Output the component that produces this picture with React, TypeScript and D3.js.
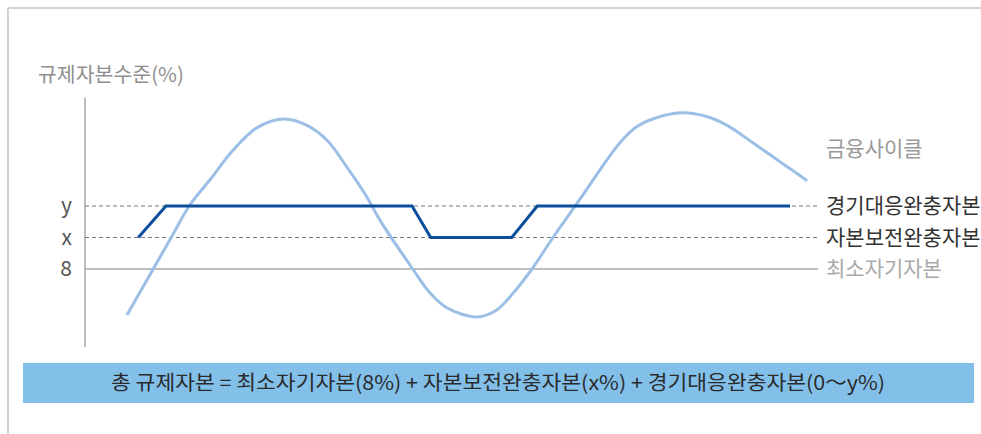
import React from "react";
import * as d3 from "d3";

// Time axis (arbitrary periods) and capital level (%)
const cycleTime = [5.6, 9.1, 11.5, 14, 16.7, 19.7, 22.9, 26.4, 29.6, 32.3, 34.9, 37.6, 39.3, 43.7, 46, 48.3, 52.3, 54.9, 57.1, 59.6, 62.4, 65.6, 71.3, 73.6, 76.7, 79.7, 82.9, 85.6, 89.1, 92.7, 96.3];
const cycleLevel = [4.35, 8, 10.5, 13.1, 15.1, 17.4, 19.2, 19.9, 19.4, 18.2, 16.1, 13.7, 11.9, 8, 6.1, 4.9, 4.2, 4.75, 6.1, 8, 10.5, 13.2, 18, 19.3, 20.1, 20.4, 20.1, 19.4, 18, 16.5, 15];

const bufferTime = [7.1, 10.8, 43.6, 46.1, 56.9, 60.3, 94];
const bufferLevel = [10.5, 13, 13, 10.5, 10.5, 13, 13];

const minimumCapital = 8;
const conservationBuffer = 10.5;
const countercyclicalBuffer = 13;

const levelTicks = [countercyclicalBuffer, conservationBuffer, minimumCapital];
const levelTickLabels = ["y", "x", "8"];

const rightLabels = ["경기대응완충자본", "자본보전완충자본", "최소자기자본"];
const cycleLabel = "금융사이클";
const axisTitle = "규제자본수준(%)";
const formula = "총 규제자본 = 최소자기자본(8%) + 자본보전완충자본(x%) + 경기대응완충자본(0～y%)";

const W = 981;
const H = 434;
const FONT = "'Noto Sans CJK KR', 'Noto Sans', sans-serif";

export default function App() {
  const x = d3.scaleLinear().domain([0, 100]).range([85, 835]);
  const y = d3.scaleLinear().domain([8, 10.5]).range([269, 237.5]);

  const cyclePts: [number, number][] = cycleTime.map((t, i) => [t, cycleLevel[i]]);
  const bufferPts: [number, number][] = bufferTime.map((t, i) => [t, bufferLevel[i]]);

  const cycleLine = d3
    .line<[number, number]>()
    .x((d) => x(d[0]))
    .y((d) => y(d[1]))
    .curve(d3.curveCatmullRom.alpha(0.5));
  const bufferLine = d3
    .line<[number, number]>()
    .x((d) => x(d[0]))
    .y((d) => y(d[1]));

  const refEnd = 98;
  const labelX = 826;

  return (
    <svg
      width={W}
      height={H}
      viewBox={`0 0 ${W} ${H}`}
      style={{ position: "absolute", left: 0, top: 0, background: "#fff" }}
      fontFamily={FONT}
    >
      {/* frame */}
      <line x1={8} y1={8} x2={W} y2={8} stroke="#c4c4c4" strokeWidth={1.5} />
      <line x1={8} y1={8} x2={8} y2={H} stroke="#c4c4c4" strokeWidth={1.5} />

      {/* axis title */}
      <text x={38} y={82} fontSize={20.5} fill="#8f8f8f">
        {axisTitle}
      </text>

      {/* vertical axis */}
      <line x1={x(0)} y1={98} x2={x(0)} y2={347} stroke="#7a7a7a" strokeWidth={1} />

      {/* reference levels */}
      <line x1={x(0)} x2={x(refEnd) - 2} y1={y(minimumCapital)} y2={y(minimumCapital)} stroke="#a8a8a8" strokeWidth={1.5} />
      <line x1={x(0)} x2={x(refEnd)} y1={y(conservationBuffer)} y2={y(conservationBuffer)} stroke="#777" strokeWidth={1} strokeDasharray="4,3" />
      <line x1={x(0)} x2={x(refEnd)} y1={y(countercyclicalBuffer)} y2={y(countercyclicalBuffer)} stroke="#777" strokeWidth={1} strokeDasharray="4,3" />

      {/* tick labels */}
      {levelTicks.map((v, i) => (
        <text key={i} x={72} y={y(v)} dy="0.35em" textAnchor="end" fontSize={21} fill="#555">
          {levelTickLabels[i]}
        </text>
      ))}

      {/* financial cycle */}
      <path d={cycleLine(cyclePts) ?? ""} fill="none" stroke="#9cbfe6" strokeWidth={3} />

      {/* capital buffer path */}
      <path d={bufferLine(bufferPts) ?? ""} fill="none" stroke="#0b4f9c" strokeWidth={3} strokeLinejoin="miter" />

      {/* right labels */}
      <text x={labelX} y={y(20.4) + 36} dy="0.35em" fontSize={21} fill="#999">
        {cycleLabel}
      </text>
      {levelTicks.map((v, i) => (
        <text
          key={"r" + i}
          x={labelX}
          y={y(v)}
          dy="0.35em"
          fontSize={21}
          fill={i === 2 ? "#aaa" : "#333"}
        >
          {rightLabels[i]}
        </text>
      ))}

      {/* formula box */}
      <rect x={23} y={363} width={951} height={40} fill="#82c0ea" />
      <text
        x={111}
        y={383}
        dy="0.35em"
        fontSize={20}
        fill="#2b2b2b"
        textLength={774}
        lengthAdjust="spacingAndGlyphs"
      >
        {formula}
      </text>
    </svg>
  );
}
